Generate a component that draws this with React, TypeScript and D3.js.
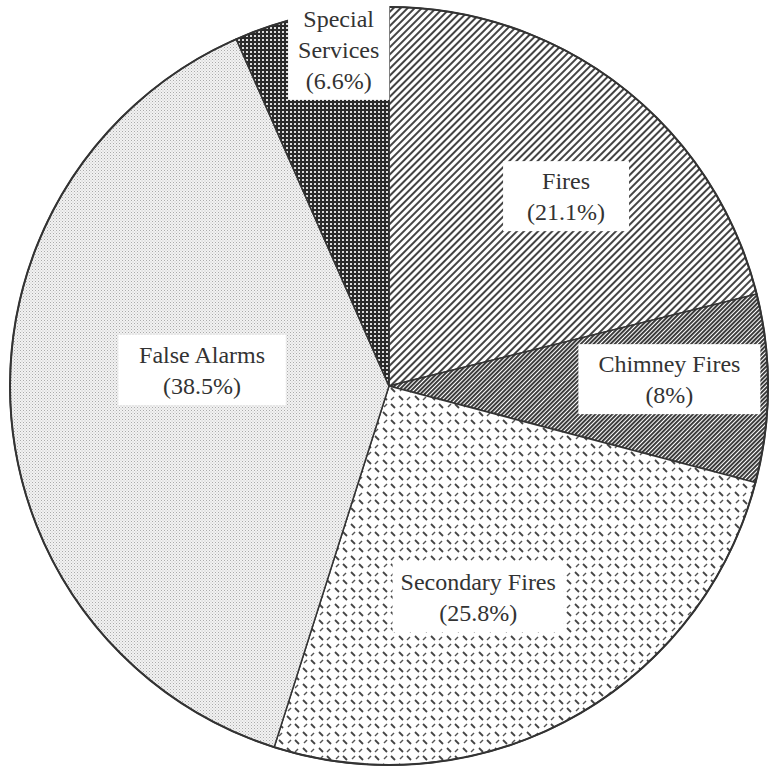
import React from "react";
import * as d3 from "d3";

const categories = ["Fires", "Chimney Fires", "Secondary Fires", "False Alarms", "Special Services"];
const values = [21.1, 8, 25.8, 38.5, 6.6];
const valueLabels = ["(21.1%)", "(8%)", "(25.8%)", "(38.5%)", "(6.6%)"];
const labelLines = [["Fires"], ["Chimney Fires"], ["Secondary Fires"], ["False Alarms"], ["Special", "Services"]];

const W = 770;
const H = 774;
const CX = 389;
const CY = 386;
const R = 379;
// label placement: fraction of radius, angle in degrees (clockwise from 12 o'clock), box padding
const labelLayout = [
  { k: 0.685, a: 43, pad: 24 },
  { k: 0.74, a: 88.6, pad: 20 },
  { k: 0.605, a: 157.1, pad: 8 },
  { k: 0.495, a: 274.9, pad: 20 },
  { k: 0.898, a: 351.5, pad: 10 },
];
const patternIds = ["pFires", "pChimney", "pSecondary", "pFalse", "pSpecial"];
const FONT = "'Liberation Serif', 'Times New Roman', serif";
const INK = "#333";

function Label({ lines, x, y, padX }: { lines: string[]; x: number; y: number; padX: number }) {
  const fs = 24;
  const lh = 31;
  const n = lines.length;
  const ctx = typeof document !== "undefined" ? document.createElement("canvas").getContext("2d") : null;
  let maxW = 0;
  if (ctx) {
    ctx.font = `${fs}px ${FONT}`;
    lines.forEach((l) => (maxW = Math.max(maxW, ctx.measureText(l).width)));
  } else maxW = 120;
  const h = n * lh + 8;
  const top = y - h / 2;
  return (
    <g>
      <rect x={x - maxW / 2 - padX} y={top} width={maxW + padX * 2} height={h} fill="#fff" />
      {lines.map((l, i) => (
        <text
          key={i}
          x={x}
          y={top + 4 + lh / 2 + i * lh}
          dy="0.35em"
          textAnchor="middle"
          fontFamily={FONT}
          fontSize={fs}
          fill={INK}
        >
          {l}
        </text>
      ))}
    </g>
  );
}

export default function App() {
  const pie = d3.pie<number>().sort(null).value((d) => d);
  const arcs = pie(values);
  const arc = d3.arc<d3.PieArcDatum<number>>().innerRadius(0).outerRadius(R);

  return (
    <svg width={W} height={H} style={{ position: "absolute", left: 0, top: 0, background: "#fff" }}>
      <defs>
        <pattern id="pFires" width="5" height="5" patternUnits="userSpaceOnUse" patternTransform="rotate(45)">
          <rect width="5" height="5" fill="#fff" />
          <rect x="0" y="0" width="2" height="5" fill="#444" />
        </pattern>
        <pattern id="pChimney" width="3" height="3" patternUnits="userSpaceOnUse" patternTransform="rotate(45)">
          <rect width="3" height="3" fill="#fff" />
          <rect x="0" y="0" width="1.9" height="3" fill="#333" />
        </pattern>
        <pattern id="pSecondary" width="16" height="16" patternUnits="userSpaceOnUse">
          <rect width="16" height="16" fill="#fff" />
          <line x1="2" y1="2" x2="6" y2="6" stroke="#444" strokeWidth="1.8" />
          <line x1="10" y1="10" x2="14" y2="14" stroke="#444" strokeWidth="1.8" />
          <line x1="2" y1="14" x2="5" y2="11" stroke="#555" strokeWidth="1.5" />
          <line x1="11" y1="5" x2="14" y2="2" stroke="#555" strokeWidth="1.5" />
        </pattern>
        <pattern id="pFalse" width="3" height="3" patternUnits="userSpaceOnUse">
          <rect width="3" height="3" fill="#f2f2f2" />
          <rect x="0" y="0" width="1" height="1" fill="#aaa" />
          <rect x="1.5" y="1.5" width="1" height="1" fill="#c4c4c4" />
        </pattern>
        <pattern id="pSpecial" width="4" height="4" patternUnits="userSpaceOnUse">
          <rect width="4" height="4" fill="#2a2a2a" />
          <rect x="1" y="1" width="2" height="2" fill="#ddd" />
        </pattern>
      </defs>
      <g transform={`translate(${CX},${CY})`}>
        {arcs.map((a, i) => (
          <path key={categories[i]} d={arc(a) || ""} fill={`url(#${patternIds[i]})`} stroke={INK} strokeWidth={1.5} />
        ))}
        <circle r={R} fill="none" stroke={INK} strokeWidth={2} />
      </g>
      {arcs.map((a, i) => {
        const L = labelLayout[i];
        const ang = (L.a * Math.PI) / 180;
        const x = CX + Math.sin(ang) * R * L.k;
        const y = CY - Math.cos(ang) * R * L.k;
        return <Label key={i} lines={[...labelLines[i], valueLabels[i]]} x={x} y={y} padX={L.pad} />;
      })}
    </svg>
  );
}
